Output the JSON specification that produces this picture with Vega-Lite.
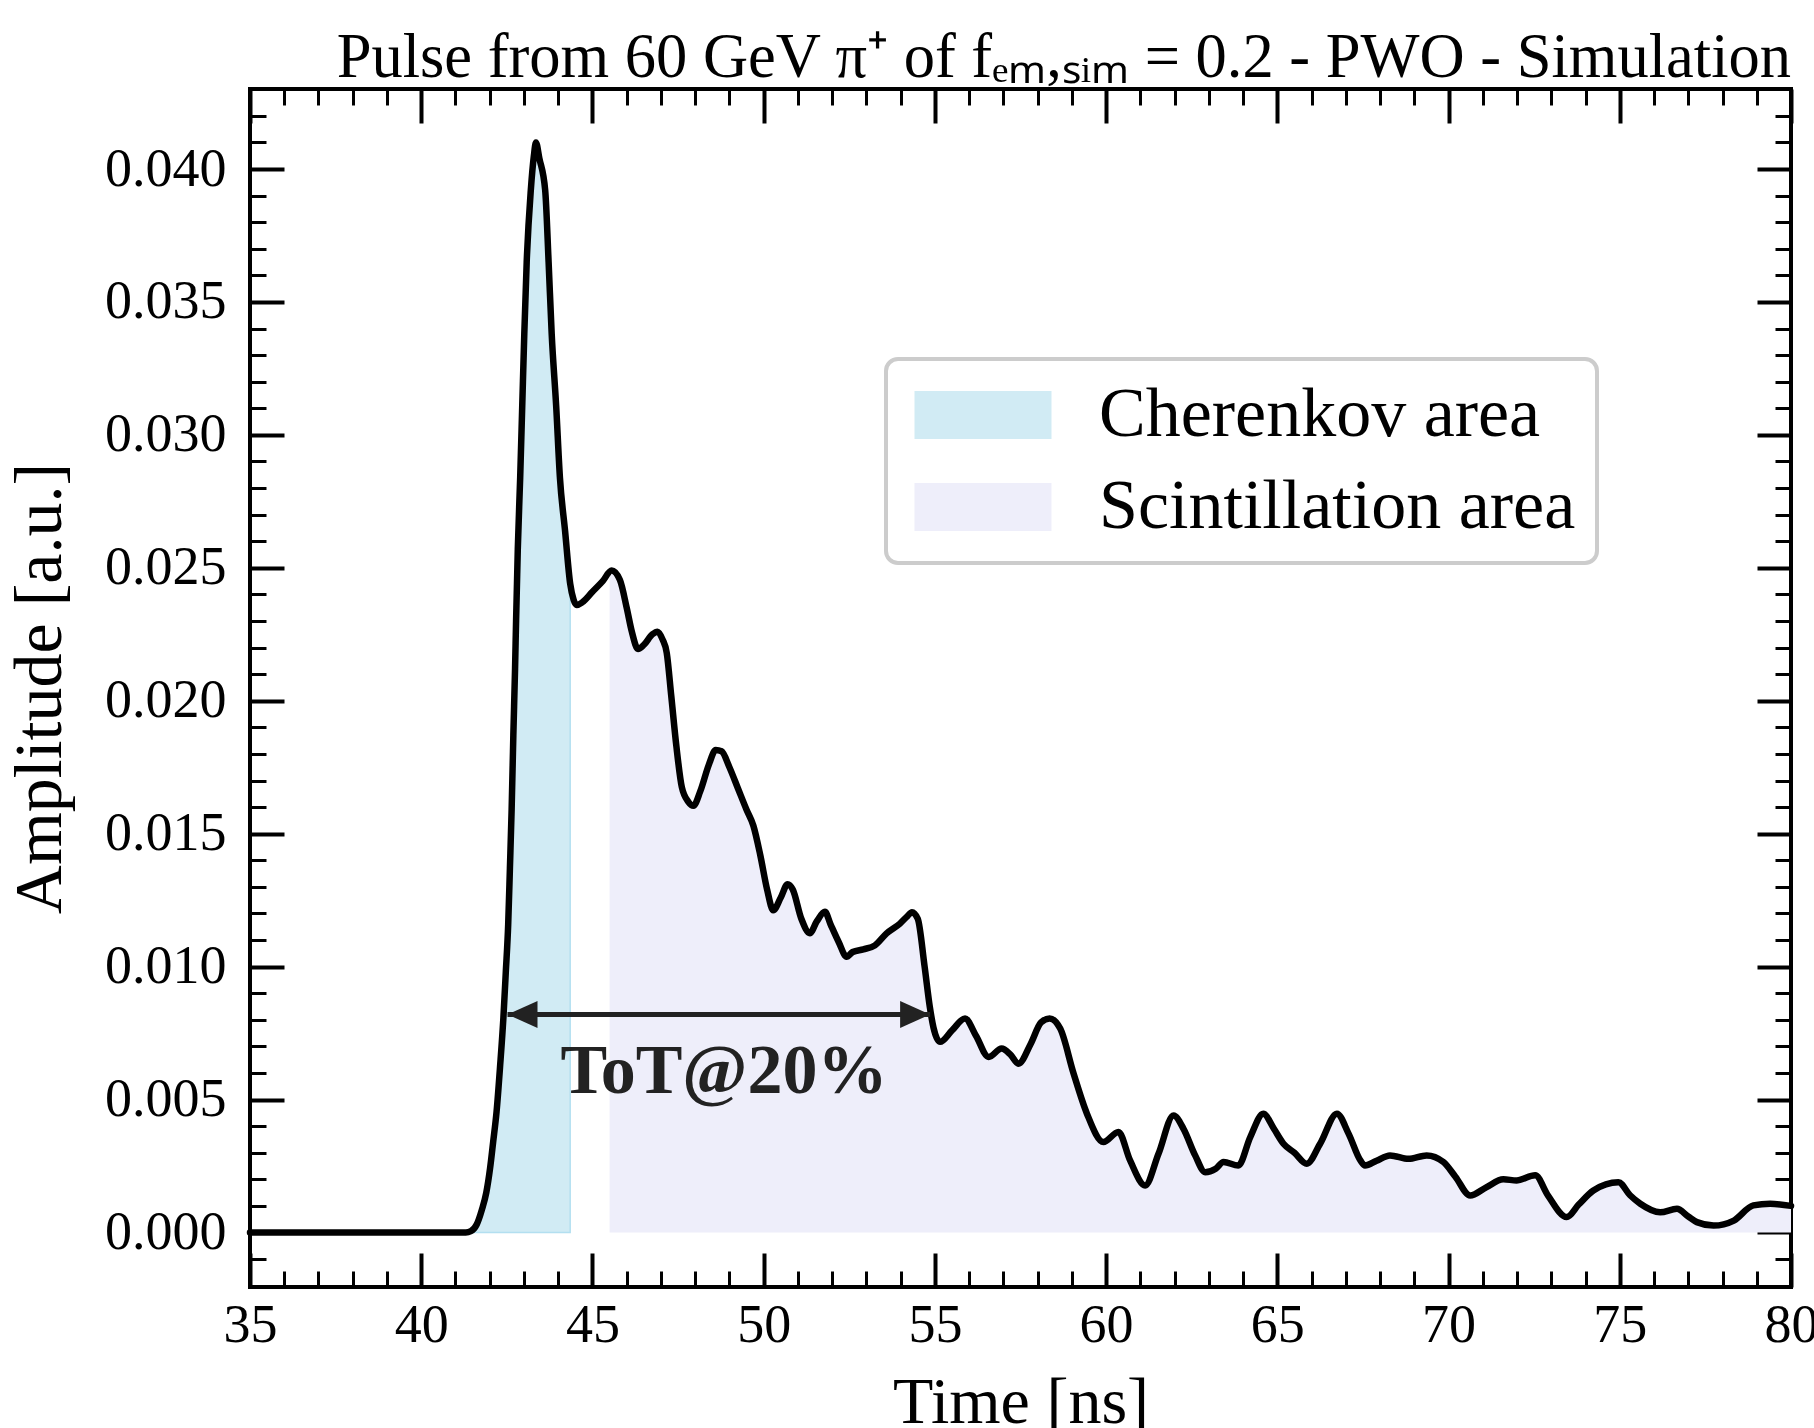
{
  "$schema": "https://vega.github.io/schema/vega-lite/v6.json",
  "width": 1541,
  "height": 1198,
  "autosize": {"type": "none"},
  "padding": {"left": 250, "top": 89, "right": 23, "bottom": 141},
  "background": "white",
  "config": {
    "view": {"stroke": "black", "strokeWidth": 4},
    "axis": {"grid": false, "domain": false, "tickColor": "black", "labelColor": "black", "titleColor": "black", "labelFont": "Liberation Serif", "titleFont": "Liberation Serif", "titleFontWeight": "normal", "labelFlush": false, "labelOverlap": false, "zindex": 1},
    "legend": {"strokeWidth": 4}
  },
  "title": {"text": "Pulse from 60 GeV π⁺ of fₑₘ,ₛᵢₘ = 0.2 - PWO - Simulation", "anchor": "end", "frame": "group", "font": "Liberation Serif", "fontSize": 62.5, "fontWeight": "normal", "fontStyle": "normal", "color": "black", "baseline": "alphabetic", "offset": -52},
  "datasets": {
    "pulse": [
      {"t":35,"a":0},{"t":41.3,"a":0},{"t":41.45,"a":0.00005},{"t":41.62,"a":0.0003},{"t":41.77,"a":0.00085},{"t":41.9,"a":0.0015},{"t":42.01,"a":0.00241},{"t":42.1,"a":0.0034},{"t":42.2,"a":0.00454},{"t":42.3,"a":0.0062},{"t":42.4,"a":0.00808},{"t":42.47,"a":0.0098},{"t":42.54,"a":0.0116},{"t":42.59,"a":0.0137},{"t":42.64,"a":0.0159},{"t":42.69,"a":0.0187},{"t":42.74,"a":0.0212},{"t":42.77,"a":0.023},{"t":42.82,"a":0.0257},{"t":42.89,"a":0.0284},{"t":42.95,"a":0.0311},{"t":43.01,"a":0.0338},{"t":43.08,"a":0.0365},{"t":43.2,"a":0.0392},{"t":43.29,"a":0.0405},{"t":43.35,"a":0.041},{"t":43.45,"a":0.0404},{"t":43.62,"a":0.0392},{"t":43.72,"a":0.0365},{"t":43.81,"a":0.0338},{"t":43.94,"a":0.0311},{"t":44.05,"a":0.0284},{"t":44.2,"a":0.0264},{"t":44.35,"a":0.0244},{"t":44.45,"a":0.0238},{"t":44.54,"a":0.0236},{"t":44.7,"a":0.0237},{"t":45.0,"a":0.0241},{"t":45.3,"a":0.0245},{"t":45.56,"a":0.0249},{"t":45.8,"a":0.02455},{"t":46.0,"a":0.0235},{"t":46.15,"a":0.0226},{"t":46.33,"a":0.02195},{"t":46.5,"a":0.0221},{"t":46.75,"a":0.0225},{"t":46.9,"a":0.0226},{"t":47.05,"a":0.0223},{"t":47.17,"a":0.0218},{"t":47.3,"a":0.0202},{"t":47.45,"a":0.0183},{"t":47.61,"a":0.01675},{"t":47.8,"a":0.0162},{"t":47.95,"a":0.01605},{"t":48.15,"a":0.0166},{"t":48.4,"a":0.0176},{"t":48.6,"a":0.01815},{"t":48.77,"a":0.0181},{"t":49.0,"a":0.0175},{"t":49.25,"a":0.0167},{"t":49.5,"a":0.0159},{"t":49.7,"a":0.0153},{"t":49.9,"a":0.0142},{"t":50.1,"a":0.0129},{"t":50.28,"a":0.01212},{"t":50.5,"a":0.0126},{"t":50.7,"a":0.0131},{"t":50.85,"a":0.0129},{"t":51.1,"a":0.0118},{"t":51.35,"a":0.01126},{"t":51.55,"a":0.0117},{"t":51.79,"a":0.01206},{"t":51.95,"a":0.0116},{"t":52.2,"a":0.0109},{"t":52.42,"a":0.01037},{"t":52.6,"a":0.01055},{"t":52.91,"a":0.01065},{"t":53.25,"a":0.0108},{"t":53.59,"a":0.01125},{"t":53.98,"a":0.01162},{"t":54.2,"a":0.0119},{"t":54.33,"a":0.01205},{"t":54.5,"a":0.0118},{"t":54.7,"a":0.01},{"t":54.85,"a":0.0085},{"t":54.96,"a":0.0077},{"t":55.15,"a":0.00717},{"t":55.5,"a":0.0076},{"t":55.88,"a":0.00805},{"t":56.2,"a":0.0074},{"t":56.57,"a":0.0066},{"t":56.95,"a":0.00692},{"t":57.2,"a":0.0067},{"t":57.44,"a":0.00635},{"t":57.8,"a":0.0071},{"t":58.1,"a":0.0079},{"t":58.35,"a":0.00805},{"t":58.66,"a":0.00767},{"t":59.05,"a":0.00598},{"t":59.44,"a":0.00447},{"t":59.92,"a":0.0034},{"t":60.36,"a":0.00378},{"t":60.7,"a":0.00271},{"t":61.14,"a":0.00177},{"t":61.53,"a":0.00296},{"t":61.97,"a":0.0044},{"t":62.26,"a":0.0039},{"t":62.6,"a":0.0029},{"t":62.89,"a":0.00227},{"t":63.2,"a":0.0024},{"t":63.43,"a":0.00265},{"t":63.86,"a":0.00252},{"t":64.21,"a":0.00359},{"t":64.59,"a":0.00447},{"t":64.9,"a":0.0039},{"t":65.18,"a":0.00334},{"t":65.5,"a":0.003},{"t":65.86,"a":0.00259},{"t":66.25,"a":0.00334},{"t":66.74,"a":0.00447},{"t":67.08,"a":0.00372},{"t":67.43,"a":0.0027},{"t":67.56,"a":0.00252},{"t":67.9,"a":0.0027},{"t":68.29,"a":0.0029},{"t":68.83,"a":0.00277},{"t":69.36,"a":0.0029},{"t":69.85,"a":0.00265},{"t":70.2,"a":0.0021},{"t":70.63,"a":0.00139},{"t":71.1,"a":0.0017},{"t":71.6,"a":0.002},{"t":71.99,"a":0.00196},{"t":72.53,"a":0.00215},{"t":72.9,"a":0.0014},{"t":73.45,"a":0.00058},{"t":73.8,"a":0.00105},{"t":74.23,"a":0.00158},{"t":74.96,"a":0.00189},{"t":75.3,"a":0.0014},{"t":75.6,"a":0.00108},{"t":76.18,"a":0.00076},{"t":76.67,"a":0.00089},{"t":77.0,"a":0.0006},{"t":77.25,"a":0.00039},{"t":77.74,"a":0.00026},{"t":78.33,"a":0.00045},{"t":78.9,"a":0.00102},{"t":79.39,"a":0.00108},{"t":80.0,"a":0.001}
    ],
    "cher": [
      {"t":41.45,"a":0.00005,"region":"Cherenkov area"},{"t":41.62,"a":0.0003,"region":"Cherenkov area"},{"t":41.77,"a":0.00085,"region":"Cherenkov area"},{"t":41.9,"a":0.0015,"region":"Cherenkov area"},{"t":42.01,"a":0.00241,"region":"Cherenkov area"},{"t":42.1,"a":0.0034,"region":"Cherenkov area"},{"t":42.2,"a":0.00454,"region":"Cherenkov area"},{"t":42.3,"a":0.0062,"region":"Cherenkov area"},{"t":42.4,"a":0.00808,"region":"Cherenkov area"},{"t":42.47,"a":0.0098,"region":"Cherenkov area"},{"t":42.54,"a":0.0116,"region":"Cherenkov area"},{"t":42.59,"a":0.0137,"region":"Cherenkov area"},{"t":42.64,"a":0.0159,"region":"Cherenkov area"},{"t":42.69,"a":0.0187,"region":"Cherenkov area"},{"t":42.74,"a":0.0212,"region":"Cherenkov area"},{"t":42.77,"a":0.023,"region":"Cherenkov area"},{"t":42.82,"a":0.0257,"region":"Cherenkov area"},{"t":42.89,"a":0.0284,"region":"Cherenkov area"},{"t":42.95,"a":0.0311,"region":"Cherenkov area"},{"t":43.01,"a":0.0338,"region":"Cherenkov area"},{"t":43.08,"a":0.0365,"region":"Cherenkov area"},{"t":43.2,"a":0.0392,"region":"Cherenkov area"},{"t":43.29,"a":0.0405,"region":"Cherenkov area"},{"t":43.35,"a":0.041,"region":"Cherenkov area"},{"t":43.45,"a":0.0404,"region":"Cherenkov area"},{"t":43.62,"a":0.0392,"region":"Cherenkov area"},{"t":43.72,"a":0.0365,"region":"Cherenkov area"},{"t":43.81,"a":0.0338,"region":"Cherenkov area"},{"t":43.94,"a":0.0311,"region":"Cherenkov area"},{"t":44.05,"a":0.0284,"region":"Cherenkov area"},{"t":44.2,"a":0.0264,"region":"Cherenkov area"},{"t":44.35,"a":0.0244,"region":"Cherenkov area"}
    ],
    "scint": [
      {"t":45.5,"a":0.0248,"region":"Scintillation area"},{"t":45.56,"a":0.0249,"region":"Scintillation area"},{"t":45.8,"a":0.02455,"region":"Scintillation area"},{"t":46.0,"a":0.0235,"region":"Scintillation area"},{"t":46.15,"a":0.0226,"region":"Scintillation area"},{"t":46.33,"a":0.02195,"region":"Scintillation area"},{"t":46.5,"a":0.0221,"region":"Scintillation area"},{"t":46.75,"a":0.0225,"region":"Scintillation area"},{"t":46.9,"a":0.0226,"region":"Scintillation area"},{"t":47.05,"a":0.0223,"region":"Scintillation area"},{"t":47.17,"a":0.0218,"region":"Scintillation area"},{"t":47.3,"a":0.0202,"region":"Scintillation area"},{"t":47.45,"a":0.0183,"region":"Scintillation area"},{"t":47.61,"a":0.01675,"region":"Scintillation area"},{"t":47.8,"a":0.0162,"region":"Scintillation area"},{"t":47.95,"a":0.01605,"region":"Scintillation area"},{"t":48.15,"a":0.0166,"region":"Scintillation area"},{"t":48.4,"a":0.0176,"region":"Scintillation area"},{"t":48.6,"a":0.01815,"region":"Scintillation area"},{"t":48.77,"a":0.0181,"region":"Scintillation area"},{"t":49.0,"a":0.0175,"region":"Scintillation area"},{"t":49.25,"a":0.0167,"region":"Scintillation area"},{"t":49.5,"a":0.0159,"region":"Scintillation area"},{"t":49.7,"a":0.0153,"region":"Scintillation area"},{"t":49.9,"a":0.0142,"region":"Scintillation area"},{"t":50.1,"a":0.0129,"region":"Scintillation area"},{"t":50.28,"a":0.01212,"region":"Scintillation area"},{"t":50.5,"a":0.0126,"region":"Scintillation area"},{"t":50.7,"a":0.0131,"region":"Scintillation area"},{"t":50.85,"a":0.0129,"region":"Scintillation area"},{"t":51.1,"a":0.0118,"region":"Scintillation area"},{"t":51.35,"a":0.01126,"region":"Scintillation area"},{"t":51.55,"a":0.0117,"region":"Scintillation area"},{"t":51.79,"a":0.01206,"region":"Scintillation area"},{"t":51.95,"a":0.0116,"region":"Scintillation area"},{"t":52.2,"a":0.0109,"region":"Scintillation area"},{"t":52.42,"a":0.01037,"region":"Scintillation area"},{"t":52.6,"a":0.01055,"region":"Scintillation area"},{"t":52.91,"a":0.01065,"region":"Scintillation area"},{"t":53.25,"a":0.0108,"region":"Scintillation area"},{"t":53.59,"a":0.01125,"region":"Scintillation area"},{"t":53.98,"a":0.01162,"region":"Scintillation area"},{"t":54.2,"a":0.0119,"region":"Scintillation area"},{"t":54.33,"a":0.01205,"region":"Scintillation area"},{"t":54.5,"a":0.0118,"region":"Scintillation area"},{"t":54.7,"a":0.01,"region":"Scintillation area"},{"t":54.85,"a":0.0085,"region":"Scintillation area"},{"t":54.96,"a":0.0077,"region":"Scintillation area"},{"t":55.15,"a":0.00717,"region":"Scintillation area"},{"t":55.5,"a":0.0076,"region":"Scintillation area"},{"t":55.88,"a":0.00805,"region":"Scintillation area"},{"t":56.2,"a":0.0074,"region":"Scintillation area"},{"t":56.57,"a":0.0066,"region":"Scintillation area"},{"t":56.95,"a":0.00692,"region":"Scintillation area"},{"t":57.2,"a":0.0067,"region":"Scintillation area"},{"t":57.44,"a":0.00635,"region":"Scintillation area"},{"t":57.8,"a":0.0071,"region":"Scintillation area"},{"t":58.1,"a":0.0079,"region":"Scintillation area"},{"t":58.35,"a":0.00805,"region":"Scintillation area"},{"t":58.66,"a":0.00767,"region":"Scintillation area"},{"t":59.05,"a":0.00598,"region":"Scintillation area"},{"t":59.44,"a":0.00447,"region":"Scintillation area"},{"t":59.92,"a":0.0034,"region":"Scintillation area"},{"t":60.36,"a":0.00378,"region":"Scintillation area"},{"t":60.7,"a":0.00271,"region":"Scintillation area"},{"t":61.14,"a":0.00177,"region":"Scintillation area"},{"t":61.53,"a":0.00296,"region":"Scintillation area"},{"t":61.97,"a":0.0044,"region":"Scintillation area"},{"t":62.26,"a":0.0039,"region":"Scintillation area"},{"t":62.6,"a":0.0029,"region":"Scintillation area"},{"t":62.89,"a":0.00227,"region":"Scintillation area"},{"t":63.2,"a":0.0024,"region":"Scintillation area"},{"t":63.43,"a":0.00265,"region":"Scintillation area"},{"t":63.86,"a":0.00252,"region":"Scintillation area"},{"t":64.21,"a":0.00359,"region":"Scintillation area"},{"t":64.59,"a":0.00447,"region":"Scintillation area"},{"t":64.9,"a":0.0039,"region":"Scintillation area"},{"t":65.18,"a":0.00334,"region":"Scintillation area"},{"t":65.5,"a":0.003,"region":"Scintillation area"},{"t":65.86,"a":0.00259,"region":"Scintillation area"},{"t":66.25,"a":0.00334,"region":"Scintillation area"},{"t":66.74,"a":0.00447,"region":"Scintillation area"},{"t":67.08,"a":0.00372,"region":"Scintillation area"},{"t":67.43,"a":0.0027,"region":"Scintillation area"},{"t":67.56,"a":0.00252,"region":"Scintillation area"},{"t":67.9,"a":0.0027,"region":"Scintillation area"},{"t":68.29,"a":0.0029,"region":"Scintillation area"},{"t":68.83,"a":0.00277,"region":"Scintillation area"},{"t":69.36,"a":0.0029,"region":"Scintillation area"},{"t":69.85,"a":0.00265,"region":"Scintillation area"},{"t":70.2,"a":0.0021,"region":"Scintillation area"},{"t":70.63,"a":0.00139,"region":"Scintillation area"},{"t":71.1,"a":0.0017,"region":"Scintillation area"},{"t":71.6,"a":0.002,"region":"Scintillation area"},{"t":71.99,"a":0.00196,"region":"Scintillation area"},{"t":72.53,"a":0.00215,"region":"Scintillation area"},{"t":72.9,"a":0.0014,"region":"Scintillation area"},{"t":73.45,"a":0.00058,"region":"Scintillation area"},{"t":73.8,"a":0.00105,"region":"Scintillation area"},{"t":74.23,"a":0.00158,"region":"Scintillation area"},{"t":74.96,"a":0.00189,"region":"Scintillation area"},{"t":75.3,"a":0.0014,"region":"Scintillation area"},{"t":75.6,"a":0.00108,"region":"Scintillation area"},{"t":76.18,"a":0.00076,"region":"Scintillation area"},{"t":76.67,"a":0.00089,"region":"Scintillation area"},{"t":77.0,"a":0.0006,"region":"Scintillation area"},{"t":77.25,"a":0.00039,"region":"Scintillation area"},{"t":77.74,"a":0.00026,"region":"Scintillation area"},{"t":78.33,"a":0.00045,"region":"Scintillation area"},{"t":78.9,"a":0.00102,"region":"Scintillation area"},{"t":79.39,"a":0.00108,"region":"Scintillation area"},{"t":80.0,"a":0.001,"region":"Scintillation area"}
    ],
    "arrow": [{"t1": 42.52, "t2": 54.86, "a": 0.0082}],
    "heads": [{"t": 42.52, "a": 0.0082, "dir": "left"}, {"t": 54.86, "a": 0.0082, "dir": "right"}],
    "label": [{"t": 48.84, "a": 0.00523, "txt": "ToT@20%"}]
  },
  "resolve": {"axis": {"x": "independent", "y": "independent"}},
  "layer": [
    {
      "data": {"name": "cher"},
      "mark": {"type": "area", "interpolate": "monotone", "opacity": 1, "stroke": "#b3dff0", "strokeWidth": 1.5},
      "encoding": {
        "x": {"field": "t", "type": "quantitative", "scale": {"domain": [35, 80], "nice": false, "zero": false},
          "axis": {"orient": "bottom", "values": [35,40,45,50,55,60,65,70,75,80], "format": "d", "tickSize": -34, "tickWidth": 4, "labelPadding": 45, "labelFontSize": 54, "title": "Time [ns]", "titleFontSize": 66, "titlePadding": 18}},
        "y": {"field": "a", "type": "quantitative", "scale": {"domain": [-0.00205, 0.04301], "nice": false, "zero": false},
          "axis": {"orient": "left", "values": [0,0.005,0.01,0.015,0.02,0.025,0.03,0.035,0.04], "format": ".3f", "tickSize": -34, "tickWidth": 4, "labelPadding": 58, "labelFontSize": 54, "title": "Amplitude [a.u.]", "titleFontSize": 68, "titlePadding": 30}},
        "y2": {"datum": 0},
        "color": {"field": "region", "type": "nominal",
          "scale": {"domain": ["Cherenkov area", "Scintillation area"], "range": ["#d1ebf4", "#eeeefa"]},
          "legend": {"title": null, "orient": "none", "legendX": 636, "legendY": 270, "symbolType": "M-2,-0.7H2V0.7H-2Z", "symbolSize": 4692, "symbolOffset": 41, "symbolStrokeWidth": 0, "symbolOpacity": 1, "labelFont": "Liberation Serif", "labelFontSize": 70, "labelColor": "black", "labelOffset": 81, "labelLimit": 800, "padding": 21, "rowPadding": 22, "strokeColor": "#cccccc", "cornerRadius": 12, "fillColor": "white"}}
      }
    },
    {
      "data": {"name": "scint"},
      "mark": {"type": "area", "interpolate": "monotone", "opacity": 1},
      "encoding": {
        "x": {"field": "t", "type": "quantitative", "scale": {"domain": [35, 80], "nice": false, "zero": false},
          "axis": {"orient": "bottom", "values": [35,36,37,38,39,40,41,42,43,44,45,46,47,48,49,50,51,52,53,54,55,56,57,58,59,60,61,62,63,64,65,66,67,68,69,70,71,72,73,74,75,76,77,78,79,80], "tickSize": -16, "tickWidth": 3, "labels": false, "title": null}},
        "y": {"field": "a", "type": "quantitative", "scale": {"domain": [-0.00205, 0.04301], "nice": false, "zero": false},
          "axis": {"orient": "left", "values": [-0.002,-0.001,0,0.001,0.002,0.003,0.004,0.005,0.006,0.007,0.008,0.009,0.01,0.011,0.012,0.013,0.014,0.015,0.016,0.017,0.018,0.019,0.02,0.021,0.022,0.023,0.024,0.025,0.026,0.027,0.028,0.029,0.03,0.031,0.032,0.033,0.034,0.035,0.036,0.037,0.038,0.039,0.04,0.041,0.042,0.043], "tickSize": -16, "tickWidth": 3, "labels": false, "title": null}},
        "y2": {"datum": 0},
        "color": {"field": "region", "type": "nominal", "scale": {"domain": ["Cherenkov area", "Scintillation area"], "range": ["#d1ebf4", "#eeeefa"]}}
      }
    },
    {
      "data": {"name": "pulse"},
      "mark": {"type": "line", "interpolate": "monotone", "color": "black", "strokeWidth": 6.5, "strokeJoin": "round", "strokeCap": "round"},
      "encoding": {
        "x": {"field": "t", "type": "quantitative", "scale": {"domain": [35, 80], "nice": false, "zero": false},
          "axis": {"orient": "top", "values": [35,40,45,50,55,60,65,70,75,80], "tickSize": -34, "tickWidth": 4, "labels": false, "title": null}},
        "y": {"field": "a", "type": "quantitative", "scale": {"domain": [-0.00205, 0.04301], "nice": false, "zero": false},
          "axis": {"orient": "right", "values": [0,0.005,0.01,0.015,0.02,0.025,0.03,0.035,0.04], "tickSize": -34, "tickWidth": 4, "labels": false, "title": null}}
      }
    },
    {
      "data": {"name": "arrow"},
      "mark": {"type": "rule", "color": "#222222", "strokeWidth": 5},
      "encoding": {
        "x": {"field": "t1", "type": "quantitative", "scale": {"domain": [35, 80], "nice": false, "zero": false},
          "axis": {"orient": "top", "values": [35,36,37,38,39,40,41,42,43,44,45,46,47,48,49,50,51,52,53,54,55,56,57,58,59,60,61,62,63,64,65,66,67,68,69,70,71,72,73,74,75,76,77,78,79,80], "tickSize": -16, "tickWidth": 3, "labels": false, "title": null}},
        "x2": {"field": "t2"},
        "y": {"field": "a", "type": "quantitative", "scale": {"domain": [-0.00205, 0.04301], "nice": false, "zero": false},
          "axis": {"orient": "right", "values": [-0.002,-0.001,0,0.001,0.002,0.003,0.004,0.005,0.006,0.007,0.008,0.009,0.01,0.011,0.012,0.013,0.014,0.015,0.016,0.017,0.018,0.019,0.02,0.021,0.022,0.023,0.024,0.025,0.026,0.027,0.028,0.029,0.03,0.031,0.032,0.033,0.034,0.035,0.036,0.037,0.038,0.039,0.04,0.041,0.042,0.043], "tickSize": -16, "tickWidth": 3, "labels": false, "title": null}}
      }
    },
    {
      "data": {"name": "heads"},
      "mark": {"type": "point", "filled": true, "opacity": 1, "color": "#222222", "size": 900},
      "encoding": {
        "x": {"field": "t", "type": "quantitative", "axis": null},
        "y": {"field": "a", "type": "quantitative", "axis": null},
        "shape": {"field": "dir", "type": "nominal", "scale": {"domain": ["left", "right"], "range": ["M0,0L2,-0.9L2,0.9Z", "M0,0L-2,-0.9L-2,0.9Z"]}, "legend": null}
      }
    },
    {
      "data": {"name": "label"},
      "mark": {"type": "text", "font": "Liberation Serif", "fontWeight": "bold", "fontSize": 70, "color": "#222222", "align": "center", "baseline": "alphabetic"},
      "encoding": {
        "x": {"field": "t", "type": "quantitative", "axis": null},
        "y": {"field": "a", "type": "quantitative", "axis": null},
        "text": {"field": "txt"}
      }
    }
  ]
}
